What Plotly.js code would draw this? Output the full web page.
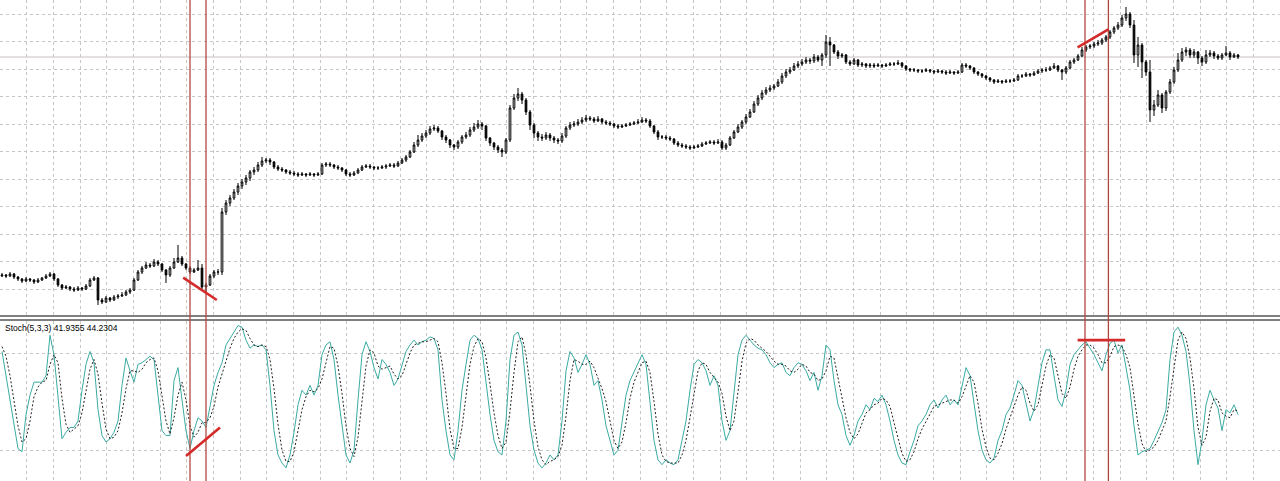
<!DOCTYPE html>
<html>
<head>
<meta charset="utf-8">
<script src="https://cdn.plot.ly/plotly-3.0.1.min.js"></script>
<style>html,body{margin:0;padding:0;background:#fff;}#chart{width:1280px;height:481px;}</style>
</head>
<body>
<div id="chart"></div>
<script>
// ---- price bars (points) ----
const open = [40,41,40,42,39,37,35,37,36,34,
36,38,40,42,37,31,28,29,27,26,
28,27,30,36,38,16,14,18,16,19,
20,21,24,26,36,44,48,51,50,54,
52,46,41,48,54,58,52,48,44,46,
48,29,31,40,44,44,104,113,118,124,
130,134,138,144,146,151,155,156,154,149,
147,146,144,143,142,141,142,141,142,141,
142,151,152,151,149,148,146,142,141,143,
146,149,150,149,148,148,149,150,151,150,
153,156,159,164,171,176,180,183,187,188,
185,179,176,171,169,174,179,181,186,189,
192,190,178,173,169,166,164,176,208,218,
222,216,204,191,183,179,178,181,178,176,
175,180,188,191,192,194,196,198,197,195,
197,194,193,192,190,189,190,191,192,193,
194,196,195,190,184,179,179,178,177,173,
171,170,169,168,169,170,172,173,174,173,
174,168,171,178,184,189,194,199,204,212,
218,223,226,228,230,234,240,244,246,250,
252,254,256,255,259,256,261,274,271,264,
260,261,254,252,256,251,252,250,251,250,
251,250,251,252,252,253,250,247,246,246,
245,245,246,245,244,245,244,243,244,243,
244,251,250,248,244,242,240,238,236,234,
235,234,235,235,236,240,240,242,241,243,
245,246,246,248,250,246,244,248,254,256,
260,266,269,270,272,273,276,279,284,288,
291,298,302,291,261,271,254,244,206,211,
221,208,224,234,246,256,264,266,261,264,
258,254,261,263,260,258,261,263,259,261];

const high = [43,42,44,43,40,38,39,38,37,38,
39,42,44,43,38,32,31,30,29,30,
29,32,38,40,39,18,20,19,21,22,
24,26,28,38,46,50,54,53,57,56,
53,47,50,58,71,60,53,50,48,56,
52,33,42,46,47,108,116,121,127,133,
137,141,146,149,154,159,158,158,155,151,
149,147,146,145,144,144,143,144,143,144,
153,154,154,152,151,149,147,144,145,148,
151,152,152,150,150,151,152,153,153,155,
158,161,166,174,181,183,186,190,191,190,
186,181,177,172,176,181,184,189,193,196,
194,191,179,174,171,168,178,211,222,228,
224,218,206,193,185,182,184,183,180,178,
183,190,194,195,197,199,201,200,199,200,
198,196,195,193,192,192,193,194,195,197,
199,198,197,191,186,181,181,180,178,175,
173,172,171,171,172,174,175,176,176,177,
176,173,180,186,192,196,202,207,215,221,
226,229,231,232,237,243,247,249,253,255,
257,259,258,262,261,263,281,279,272,266,
263,262,256,258,257,254,253,253,253,253,
252,253,254,254,256,254,251,248,248,247,
247,248,247,246,247,246,246,246,245,246,
253,253,251,249,245,243,241,239,237,237,
236,237,237,238,242,242,244,243,245,247,
248,249,250,253,251,247,250,256,258,262,
269,271,272,274,276,278,281,286,290,294,
301,309,304,296,279,273,256,256,216,226,
223,226,237,249,263,268,269,268,267,265,
260,266,266,265,262,263,270,265,263,262];

const low = [39,38,39,37,35,33,34,34,32,33,
35,37,39,35,29,26,27,25,24,25,
25,26,29,35,11,12,13,14,15,17,
19,20,22,25,35,42,47,48,49,50,
44,33,39,47,53,50,46,42,43,45,
27,24,30,38,41,41,101,110,116,121,
127,131,135,141,144,149,153,151,147,145,
144,142,141,140,139,140,139,140,139,140,
141,149,149,147,146,144,140,139,140,142,
145,148,147,146,146,147,147,149,148,149,
152,154,158,163,169,174,178,181,185,183,
176,173,168,166,167,172,177,179,184,187,
186,175,170,166,163,159,162,174,206,215,
212,201,186,178,175,175,176,175,173,172,
173,178,186,189,190,192,194,195,193,194,
192,191,190,188,187,188,189,190,191,192,
193,193,188,182,176,177,176,175,171,169,
168,167,166,167,168,169,171,172,171,172,
166,166,170,177,183,187,192,198,203,210,
216,221,224,226,229,232,238,242,245,248,
250,252,252,253,254,250,258,250,262,257,
258,252,250,251,249,249,248,248,248,249,
248,249,250,250,251,248,245,244,244,243,
243,244,243,242,243,242,241,242,241,242,
243,248,246,242,240,238,236,234,232,233,
232,233,233,234,235,238,239,239,240,242,
243,244,245,247,244,236,242,247,252,255,
259,264,267,268,270,271,274,277,282,286,
289,295,288,253,249,238,240,194,200,209,
203,205,222,232,244,254,260,258,258,252,
250,252,259,257,256,256,260,256,258,257];

const close = [41,40,42,39,37,35,37,36,34,36,
38,40,42,37,31,28,29,27,26,28,
27,30,36,38,16,14,18,16,19,20,
21,24,26,36,44,48,51,50,54,52,
46,41,48,54,58,52,48,44,46,48,
29,31,40,44,44,104,113,118,124,130,
134,138,144,146,151,155,156,154,149,147,
146,144,143,142,141,142,141,142,141,142,
151,152,151,149,148,146,142,141,143,146,
149,150,149,148,148,149,150,151,150,153,
156,159,164,171,176,180,183,187,188,185,
179,176,171,169,174,179,181,186,189,192,
190,178,173,169,166,164,176,208,218,222,
216,204,191,183,179,178,181,178,176,175,
180,188,191,192,194,196,198,197,195,197,
194,193,192,190,189,190,191,192,193,194,
196,195,190,184,179,179,178,177,173,171,
170,169,168,169,170,172,173,174,173,174,
168,171,178,184,189,194,199,204,212,218,
223,226,228,230,234,240,244,246,250,252,
254,256,255,259,256,261,274,271,264,260,
261,254,252,256,251,252,250,251,250,251,
250,251,252,252,253,250,247,246,246,245,
245,246,245,244,245,244,243,244,243,244,
251,250,248,244,242,240,238,236,234,235,
234,235,235,236,240,240,242,241,243,245,
246,246,248,250,246,244,248,254,256,260,
266,269,270,272,273,276,279,284,288,291,
298,302,291,261,271,254,244,206,211,221,
208,224,234,246,256,264,266,261,264,258,
254,261,263,260,258,261,263,259,261,259];

// ---- Stochastic (5,3,3) ----
const stochMain = [81,66,51,34,21,19,42,54,62,62,
62,66,91,79,51,27,31,34,34,38,
57,73,81,74,45,29,25,27,31,38,
60,77,69,62,73,74,76,78,76,54,
32,29,29,63,71,51,32,21,32,40,
38,34,48,60,68,74,85,89,93,97,
96,88,83,85,84,85,82,60,32,17,
12,9,17,31,48,57,54,60,54,60,
79,85,87,76,54,35,17,12,20,51,
79,87,81,71,64,76,73,68,60,64,
73,81,85,88,85,87,88,90,89,82,
51,32,17,14,32,57,73,88,91,89,
82,60,42,26,19,17,38,76,91,93,
85,60,35,20,12,9,12,17,14,17,
38,69,81,77,68,73,79,73,60,63,
51,35,26,17,20,38,54,63,68,74,
79,73,51,26,14,11,14,12,11,14,
26,38,57,73,76,74,69,60,66,60,
38,26,32,57,79,88,91,88,85,83,
82,79,74,71,73,74,68,66,71,74,
73,69,63,68,57,66,85,82,63,48,
42,29,23,29,38,42,48,45,52,50,
54,48,38,26,17,12,11,19,26,35,
38,42,48,51,46,51,54,48,51,48,
60,71,66,48,32,20,14,12,15,26,
32,42,46,54,63,60,48,38,45,60,
74,82,82,66,51,47,57,73,79,82,
85,87,83,79,74,69,79,86,88,80,
85,71,57,35,17,19,20,21,26,32,
37,45,76,93,96,91,81,60,32,11,
26,48,57,51,46,32,45,43,48,41.9355];

const stochSignal = [84,78,66,50,35,25,27,38,53,59,
62,63,73,79,74,52,36,31,33,35,
43,56,70,76,67,49,33,27,28,32,
43,58,69,69,68,70,74,76,77,69,
54,38,30,40,54,62,51,35,28,31,
37,37,40,47,59,67,76,83,89,93,
95,94,89,85,84,85,84,76,58,36,
20,13,13,19,32,45,53,57,56,58,
64,75,84,83,72,55,35,21,16,28,
50,72,82,80,72,70,71,72,67,64,
66,73,80,85,86,87,87,88,89,87,
74,55,33,21,21,34,54,73,84,89,
87,77,61,43,29,21,25,44,68,87,
90,79,60,38,22,14,11,13,14,16,
23,41,63,76,75,73,73,75,71,65,
58,50,37,26,21,25,37,52,62,68,
74,75,68,50,30,17,13,12,12,12,
17,26,40,56,69,74,73,68,65,62,
55,41,32,38,56,75,86,89,88,85,
83,81,78,75,73,73,72,69,68,70,
73,72,68,67,63,64,69,78,77,64,
51,40,31,27,30,36,43,45,48,49,
52,51,47,37,27,18,13,14,19,27,
33,38,43,47,48,49,50,51,51,49,
53,60,66,62,49,33,22,15,14,18,
24,33,40,47,54,59,57,49,44,48,
60,72,79,77,66,55,52,59,70,78,
82,85,85,83,79,74,74,78,84,85,
84,79,71,54,36,24,19,20,22,26,
32,38,53,71,88,93,89,77,58,34,
23,28,44,52,51,43,41,40,45,44.2304];

// ---- drawn objects ----
const markerBars = [47, 51, 270.75, 276.6];          // vertical lines (bar index)
const priceTrendX = [[45.3, 53.7], [268.9, 276.6]];   // trend lines on price
const priceTrendY = [[38.3, 16], [268.7, 286.7]];
const stochTrendX = [[46, 54.5], [268.9, 280.8]];     // trend lines on oscillator
const stochTrendY = [[16.3, 34], [88, 88]];
const stochLevels = [20, 80];

const bars = close.map((_, i) => i);
const last = close.length - 1;

const gridCol = '#c6c6c6';
const gridDash = '3px,3px';
const xCommon = {
  range: [-0.5, 319.5], showgrid: true, gridcolor: gridCol, griddash: gridDash, gridwidth: 1,
  tick0: -0.5, dtick: 6.6667, showticklabels: false, ticks: '', zeroline: false, showline: false,
  fixedrange: true
};

const traces = [
  {
    type: 'candlestick', x: bars, open: open, high: high, low: low, close: close,
    xaxis: 'x', yaxis: 'y', whiskerwidth: 0, hoverinfo: 'none',
    increasing: {line: {color: '#000000', width: 1}, fillcolor: '#ffffff'},
    decreasing: {line: {color: '#000000', width: 1}, fillcolor: '#000000'}
  },
  {
    type: 'scatter', mode: 'lines', x: bars, y: stochMain, xaxis: 'x2', yaxis: 'y2',
    line: {color: '#3aaba3', width: 1}, hoverinfo: 'none'
  },
  {
    type: 'scatter', mode: 'lines', x: bars, y: stochSignal, xaxis: 'x2', yaxis: 'y2',
    line: {color: '#222222', width: 1, dash: '2px,2px'}, hoverinfo: 'none'
  }
];

const shapes = [];
// separator double line
[1 - 316 / 481, 1 - 320 / 481].forEach(v => shapes.push({
  type: 'line', xref: 'paper', yref: 'paper', x0: 0, x1: 1, y0: v, y1: v,
  line: {color: '#000000', width: 1}
}));
// bid line at last close
shapes.push({type: 'line', xref: 'paper', yref: 'y', x0: 0, x1: 1, y0: close[last], y1: close[last],
  line: {color: '#c8c0c0', width: 1}, layer: 'below'});
// vertical markers
markerBars.forEach(b => shapes.push({type: 'line', xref: 'x', yref: 'paper', x0: b, x1: b, y0: 0, y1: 1,
  line: {color: '#b0473f', width: 1.3}}));
// trend lines
priceTrendX.forEach((xs, k) => shapes.push({type: 'line', xref: 'x', yref: 'y',
  x0: xs[0], x1: xs[1], y0: priceTrendY[k][0], y1: priceTrendY[k][1],
  line: {color: '#d42a2a', width: 2.6}}));
stochTrendX.forEach((xs, k) => shapes.push({type: 'line', xref: 'x2', yref: 'y2',
  x0: xs[0], x1: xs[1], y0: stochTrendY[k][0], y1: stochTrendY[k][1],
  line: {color: '#d42a2a', width: 2.6}}));

const layout = {
  width: 1280, height: 481, margin: {l: 0, r: 0, t: 0, b: 0, pad: 0},
  paper_bgcolor: '#ffffff', plot_bgcolor: '#ffffff', showlegend: false,
  boxgap: 0.4,
  xaxis: Object.assign({}, xCommon, {anchor: 'y', rangeslider: {visible: false}}),
  xaxis2: Object.assign({}, xCommon, {anchor: 'y2'}),
  yaxis: {domain: [1 - 316 / 481, 1], range: [0, 316], tick0: 302, dtick: 27.5,
    showgrid: true, gridcolor: gridCol, griddash: gridDash, showticklabels: false, ticks: '',
    zeroline: false, showline: false, fixedrange: true, anchor: 'x'},
  yaxis2: {domain: [0, 1 - 320.7 / 481], range: [0.9, 100], tickmode: 'array', tickvals: stochLevels,
    showgrid: true, gridcolor: gridCol, griddash: gridDash, showticklabels: false, ticks: '',
    zeroline: false, showline: false, fixedrange: true, anchor: 'x2'},
  shapes: shapes,
  annotations: [{
    xref: 'paper', yref: 'paper', x: 3 / 1280, y: 1 - 328 / 481, xanchor: 'left', yanchor: 'middle',
    showarrow: false, text: 'Stoch(5,3,3) ' + stochMain[last] + ' ' + stochSignal[last],
    font: {family: 'Liberation Sans, Arial, sans-serif', size: 8.5, color: '#000000'}
  }]
};

Plotly.newPlot('chart', traces, layout, {staticPlot: true, displayModeBar: false});
</script>
</body>
</html>
